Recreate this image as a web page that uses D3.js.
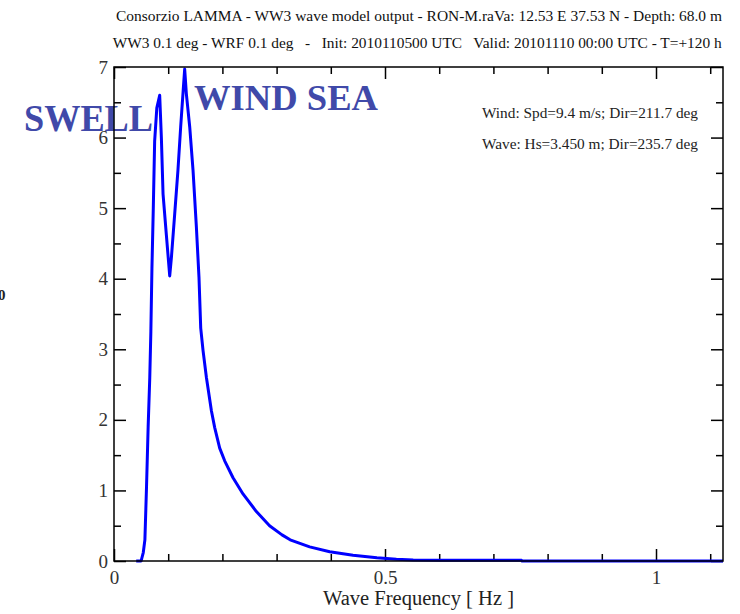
<!DOCTYPE html>
<html>
<head>
<meta charset="utf-8">
<script src="https://cdn.jsdelivr.net/npm/d3@7"></script>
<style>
  body { margin: 0; background: #fff; }
  text { font-family: "Liberation Serif", "DejaVu Serif", serif; white-space: pre; }
</style>
</head>
<body>
<script>
// spectrum: frequency [Hz] and energy density
var freq = [0.041, 0.050, 0.054, 0.057, 0.060, 0.063, 0.066, 0.068, 0.070, 0.0725,
            0.075, 0.079, 0.0843, 0.0874, 0.0905, 0.0966, 0.1028, 0.1059, 0.112, 0.118,
            0.123, 0.1275, 0.1304, 0.1335, 0.1397, 0.1458, 0.152, 0.1568, 0.160, 0.1643,
            0.1705, 0.1797, 0.1858, 0.195, 0.2042, 0.2196, 0.238, 0.2627, 0.287, 0.310,
            0.325, 0.343, 0.361, 0.398, 0.441, 0.485, 0.521, 0.552, 0.600, 0.752,
            0.753, 1.1236];
var energy = [0, 0, 0.12, 0.30, 1.05, 1.90, 2.60, 3.25, 4.15, 5.00,
              5.95, 6.42, 6.60, 6.00, 5.20, 4.62, 4.04, 4.30, 4.92, 5.54,
              6.15, 6.65, 6.97, 6.62, 6.15, 5.54, 4.73, 4.02, 3.30, 2.98,
              2.60, 2.13, 1.89, 1.60, 1.42, 1.18, 0.95, 0.70, 0.50, 0.37,
              0.30, 0.25, 0.20, 0.13, 0.08, 0.045, 0.025, 0.015, 0.01, 0.01,
              0, 0];

var xMajor = [0, 0.5, 1];
var xMinor = [0.1, 0.2, 0.3, 0.4, 0.6, 0.7, 0.8, 0.9, 1.1];
var yMajor = [0, 1, 2, 3, 4, 5, 6, 7];
var yMinor = [0.5, 1.5, 2.5, 3.5, 4.5, 5.5, 6.5];
var xMax = 1.1236;

var titleLines = [
    "Consorzio LAMMA - WW3 wave model output - RON-M.raVa: 12.53 E 37.53 N - Depth: 68.0 m",
    "WW3 0.1 deg - WRF 0.1 deg   -   Init: 2010110500 UTC   Valid: 20101110 00:00 UTC - T=+120 h"
];
var infoLines = ["Wind: Spd=9.4 m/s; Dir=211.7 deg", "Wave: Hs=3.450 m; Dir=235.7 deg"];

const width = 740;
const height = 614;
const plotLeft = 114, plotRight = 723, plotTop = 67, plotBottom = 561;

var svg = d3.select("body").append("svg")
    .attr("width", width)
    .attr("height", height);

var x = d3.scaleLinear().domain([0, xMax]).range([plotLeft, plotRight]);
var y = d3.scaleLinear().domain([0, 7]).range([plotBottom, plotTop]);

// titles
svg.append("text").attr("x", 116).attr("y", 21)
    .attr("font-size", 14).attr("fill", "#111")
    .attr("textLength", 606).attr("lengthAdjust", "spacingAndGlyphs")
    .text(titleLines[0]);
svg.append("text").attr("x", 112.7).attr("y", 48)
    .attr("font-size", 15).attr("fill", "#111")
    .attr("xml:space", "preserve")
    .attr("textLength", 609).attr("lengthAdjust", "spacingAndGlyphs")
    .text(titleLines[1]);

// SWELL / WIND SEA labels
svg.append("text").attr("x", 24).attr("y", 131)
    .attr("font-size", 37).attr("font-weight", "bold").attr("fill", "#4049a9")
    .attr("textLength", 129).attr("lengthAdjust", "spacingAndGlyphs")
    .text("SWELL");
svg.append("text").attr("x", 194).attr("y", 110)
    .attr("font-size", 35).attr("font-weight", "bold").attr("fill", "#4049a9")
    .attr("textLength", 184).attr("lengthAdjust", "spacingAndGlyphs")
    .text("WIND SEA");

// info text
infoLines.forEach(function(t, i) {
    svg.append("text").attr("x", 482).attr("y", i === 0 ? 118 : 149)
        .attr("font-size", 15).attr("fill", "#222")
        .attr("textLength", 216).attr("lengthAdjust", "spacingAndGlyphs")
        .text(t);
});

// cut-off label on the far left
svg.append("text").attr("x", -2).attr("y", 300)
    .attr("font-size", 15).attr("font-weight", "bold").attr("fill", "#222")
    .text("0");

// axes (ticks pointing inward)
function styleAxis(g) {
    g.selectAll("path.domain").remove();
    g.selectAll(".tick line").attr("stroke", "#000").attr("stroke-width", 1.5);
    g.selectAll("text")
        .attr("font-family", "Liberation Serif, serif")
        .attr("font-size", 19)
        .attr("fill", "#333");
}

svg.append("g").attr("transform", "translate(0," + plotBottom + ")")
    .call(d3.axisBottom(x).tickValues(xMajor).tickSize(-12).tickPadding(10).tickFormat(d => d))
    .call(styleAxis);
svg.append("g").attr("transform", "translate(0," + plotBottom + ")")
    .call(d3.axisBottom(x).tickValues(xMinor).tickSize(-7).tickFormat(""))
    .call(styleAxis);
svg.append("g").attr("transform", "translate(0," + plotTop + ")")
    .call(d3.axisTop(x).tickValues(xMajor).tickSize(-12).tickFormat(""))
    .call(styleAxis);
svg.append("g").attr("transform", "translate(0," + plotTop + ")")
    .call(d3.axisTop(x).tickValues(xMinor).tickSize(-7).tickFormat(""))
    .call(styleAxis);

svg.append("g").attr("transform", "translate(" + plotLeft + ",0)")
    .call(d3.axisLeft(y).tickValues(yMajor).tickSize(-12).tickPadding(6).tickFormat(d => d))
    .call(styleAxis);
svg.append("g").attr("transform", "translate(" + plotLeft + ",0)")
    .call(d3.axisLeft(y).tickValues(yMinor).tickSize(-7).tickFormat(""))
    .call(styleAxis);
svg.append("g").attr("transform", "translate(" + plotRight + ",0)")
    .call(d3.axisRight(y).tickValues(yMajor).tickSize(-12).tickFormat(""))
    .call(styleAxis);
svg.append("g").attr("transform", "translate(" + plotRight + ",0)")
    .call(d3.axisRight(y).tickValues(yMinor).tickSize(-7).tickFormat(""))
    .call(styleAxis);

// spectrum
var pts = freq.map(function(f, i) { return [f, energy[i]]; });
svg.append("path")
    .datum(pts)
    .attr("fill", "none")
    .attr("stroke", "#0000ff")
    .attr("stroke-width", 3)
    .attr("stroke-linejoin", "round")
    .attr("d", d3.line().x(d => x(d[0])).y(d => y(d[1])));

// frame
svg.append("rect")
    .attr("x", plotLeft).attr("y", plotTop)
    .attr("width", plotRight - plotLeft).attr("height", plotBottom - plotTop)
    .attr("fill", "none").attr("stroke", "#000").attr("stroke-width", 1.5);

// x axis title
svg.append("text").attr("x", 323).attr("y", 605)
    .attr("font-size", 20).attr("fill", "#222")
    .attr("textLength", 191).attr("lengthAdjust", "spacingAndGlyphs")
    .text("Wave Frequency [ Hz ]");
</script>
</body>
</html>
